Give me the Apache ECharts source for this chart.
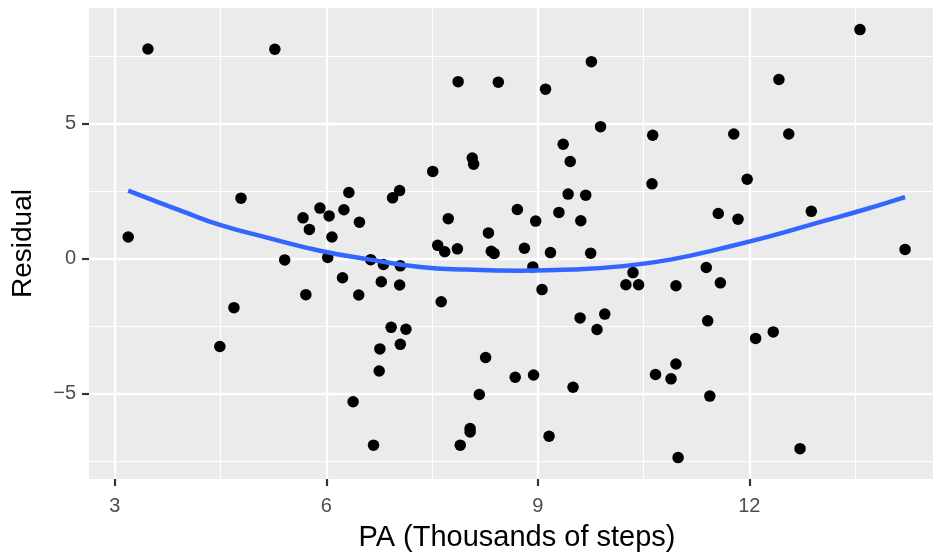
<!DOCTYPE html>
<html><head><meta charset="utf-8">
<script src="https://cdn.jsdelivr.net/npm/echarts@6/dist/echarts.min.js"></script>
<style>html,body{margin:0;padding:0;background:#fff}#c{width:933px;height:557px}</style>
</head><body><div id="c"></div>
<script>
// PA (thousands of steps) and residuals
const paSteps = [3.19,3.47,4.49,4.69,4.79,5.27,5.41,5.67,5.71,5.76,5.91,6.02,6.04,6.08,6.23,6.25,6.32,6.38,6.46,6.47,
  6.63,6.67,6.75,6.76,6.78,6.81,6.92,6.94,7.04,7.04,7.05,7.05,7.13,7.51,7.58,7.63,7.68,7.73,7.86,7.87,
  7.90,8.04,8.04,8.07,8.09,8.17,8.26,8.30,8.34,8.38,8.44,8.68,8.71,8.81,8.93,8.94,8.97,9.06,9.11,9.16,
  9.18,9.30,9.36,9.43,9.46,9.50,9.60,9.61,9.68,9.75,9.76,9.84,9.89,9.95,10.25,10.35,10.43,10.62,10.63,10.67,
  10.89,10.96,10.96,10.99,11.39,11.41,11.44,11.56,11.59,11.78,11.84,11.97,12.09,12.34,12.42,12.56,12.72,12.88,13.57,14.21];
const residuals = [0.81,7.78,-3.25,-1.81,2.25,7.77,-0.04,1.52,-1.33,1.09,1.88,0.05,1.59,0.81,-0.70,1.82,2.46,-5.30,-1.34,1.36,
  -0.03,-6.91,-4.16,-3.34,-0.85,-0.21,-2.54,2.26,2.53,-0.97,-0.26,-3.17,-2.61,3.24,0.50,-1.59,0.26,1.49,0.37,6.57,
  -6.91,-6.29,-6.42,3.74,3.51,-5.03,-3.66,0.96,0.28,0.20,6.55,-4.39,1.83,0.39,-0.30,-4.31,1.40,-1.14,6.29,-6.58,
  0.23,1.72,4.25,2.40,3.61,-4.76,-2.19,1.41,2.36,0.21,7.31,-2.62,4.90,-2.05,-0.96,-0.51,-0.96,2.78,4.58,-4.29,
  -4.45,-1.00,-3.90,-7.37,-0.32,-2.30,-5.09,1.68,-0.89,4.63,1.47,2.95,-2.95,-2.71,6.65,4.63,-7.04,1.76,8.50,0.35];
// fitted smooth curve
const fitX = [3.19,4.0,4.49,5.2,5.91,6.6,7.33,8.0,8.75,9.5,10.17,10.9,11.59,12.3,13.0,13.6,14.21];
const fitY = [2.53,1.72,1.26,0.76,0.30,-0.02,-0.30,-0.40,-0.44,-0.40,-0.28,-0.02,0.38,0.84,1.36,1.80,2.29];
const xTicks = [3,6,9,12];
const xMinor = [4.5,7.5,10.5,13.5];
const yTicks = [-5,0,5];
const yMinor = [-7.5,-2.5,2.5,7.5];

const FONT = '"Liberation Sans", Arial, sans-serif';
const xMin = 2.634, xMax = 14.606, yMin = -8.164, yMax = 9.30;
const chart = echarts.init(document.getElementById('c'), null, {renderer:'canvas'});
const pts = paSteps.map((v,i)=>[v, residuals[i]]);
const fit = fitX.map((v,i)=>[v, fitY[i]]);
const minus = v => String(v).replace('-', '\u2212');
chart.setOption({
  animation:false,
  backgroundColor:'#fff',
  grid:{left:89, top:8, right:0, bottom:75.3, show:true, backgroundColor:'#EBEBEB', borderWidth:0},
  xAxis:[{
    type:'value', min:xMin, max:xMax,
    axisLine:{show:false, onZero:false},
    axisTick:{show:true, customValues:xTicks, length:7, lineStyle:{color:'#333333', width:2.2}},
    axisLabel:{customValues:xTicks, color:'#4D4D4D', fontSize:20, fontFamily:FONT, margin:17},
    splitLine:{show:true, lineStyle:{color:'#FFFFFF', width:2.3}},
    name:'PA (Thousands of steps)', nameLocation:'middle', nameGap:44,
    nameTextStyle:{color:'#000', fontSize:29, fontFamily:FONT, padding:[0,0,0,12]}
  },{
    type:'value', min:xMin, max:xMax, position:'bottom',
    axisLine:{show:false, onZero:false},
    axisTick:{show:false, customValues:xMinor},
    axisLabel:{show:false, customValues:xMinor},
    splitLine:{show:true, lineStyle:{color:'#FFFFFF', width:1.1}}
  }],
  yAxis:[{
    type:'value', min:yMin, max:yMax,
    axisLine:{show:false, onZero:false},
    axisTick:{show:true, customValues:yTicks, length:7, lineStyle:{color:'#333333', width:2.2}},
    axisLabel:{customValues:yTicks, color:'#4D4D4D', fontSize:20, fontFamily:FONT, margin:13, formatter:minus},
    splitLine:{show:true, lineStyle:{color:'#FFFFFF', width:2.3}},
    name:'Residual', nameLocation:'middle', nameGap:52,
    nameTextStyle:{color:'#000', fontSize:28, fontFamily:FONT}
  },{
    type:'value', min:yMin, max:yMax, position:'left',
    axisLine:{show:false, onZero:false},
    axisTick:{show:false, customValues:yMinor},
    axisLabel:{show:false, customValues:yMinor},
    splitLine:{show:true, lineStyle:{color:'#FFFFFF', width:1.1}}
  }],
  series:[{
    type:'scatter', data:pts, symbolSize:11.5, itemStyle:{color:'#000', opacity:1}, z:2
  },{
    type:'line', data:fit, smooth:true, showSymbol:false, symbol:'none',
    lineStyle:{color:'#3366FF', width:4.5}, z:3
  }]
});
</script></body></html>
